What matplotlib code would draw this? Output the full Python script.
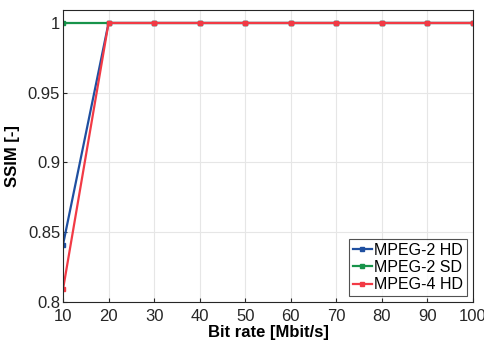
import numpy as np
import matplotlib.pyplot as plt

bitrate = [10, 20, 30, 40, 50, 60, 70, 80, 90, 100]
mpeg2_hd = [0.841, 1, 1, 1, 1, 1, 1, 1, 1, 1]
mpeg2_sd = [1, 1, 1, 1, 1, 1, 1, 1, 1, 1]
mpeg4_hd = [0.809, 1, 1, 1, 1, 1, 1, 1, 1, 1]

plt.rcParams['font.family'] = ['Liberation Sans', 'DejaVu Sans']

fig = plt.figure(figsize=(4.85, 3.47), dpi=100)
ax = fig.add_axes([63/485, 1 - 302/347, 410/485, 292/347])

ax.plot(bitrate, mpeg2_hd, color='#1f4fa0', marker='s', markersize=3, lw=1.6, label='MPEG-2 HD')
ax.plot(bitrate, mpeg2_sd, color='#17934a', marker='s', markersize=3, lw=1.6, label='MPEG-2 SD')
ax.plot(bitrate, mpeg4_hd, color='#f23a45', marker='s', markersize=3, lw=1.6, label='MPEG-4 HD')

ax.set_xlim(10, 100)
ax.set_ylim(0.8, 1.0093)
ax.set_xticks(np.arange(10, 101, 10))
ax.set_yticks([0.8, 0.85, 0.9, 0.95, 1])
ax.set_yticklabels(['0.8', '0.85', '0.9', '0.95', '1'])
ax.grid(True, color='#e6e6e6', lw=0.8)
ax.tick_params(labelsize=12, colors='#262626', direction='in', length=3, pad=2)
ax.tick_params(axis='x', pad=5)
for s in ax.spines.values():
    s.set_color('#262626')
    s.set_linewidth(0.8)

ax.set_xlabel('Bit rate [Mbit/s]', fontsize=12, fontweight='bold', labelpad=1)
ax.set_ylabel('SSIM [-]', fontsize=12, fontweight='bold', labelpad=6)

leg = ax.legend(loc='lower right', fontsize=11.5, fancybox=False, edgecolor='#262626',
                handlelength=1.2, handletextpad=0.15, borderpad=0.25, labelspacing=0.15,
                borderaxespad=0.35)
leg.get_frame().set_linewidth(0.8)

fig.savefig('out.png', dpi=100)
